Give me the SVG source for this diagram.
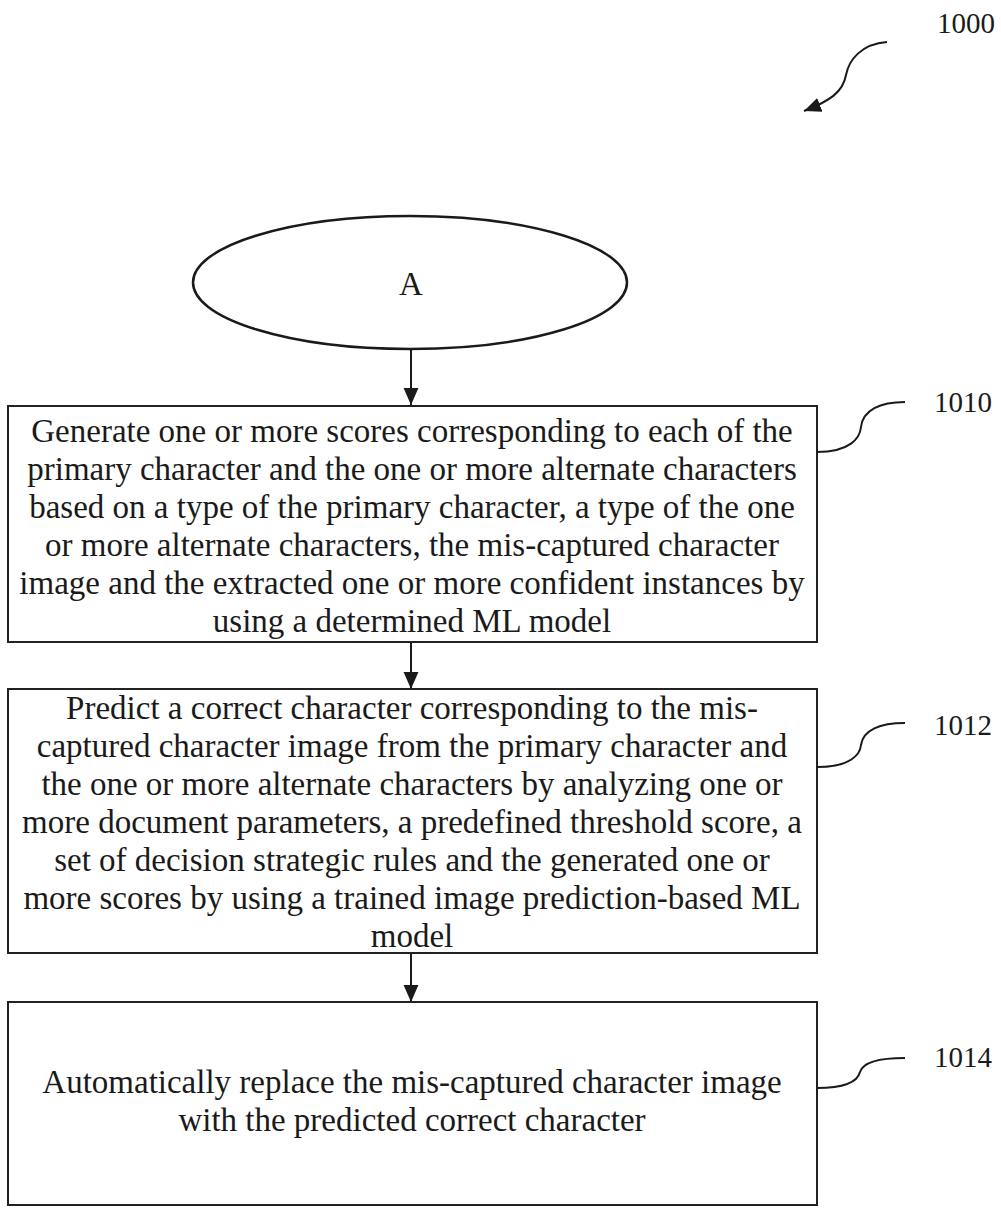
<svg xmlns="http://www.w3.org/2000/svg" width="1001" height="1208" viewBox="0 0 1001 1208">
  <style>
    .box { fill: #ffffff; stroke: #222222; stroke-width: 2; }
    .term { fill: #ffffff; stroke: #1a1a1a; stroke-width: 2.5; }
    .txt { font-family: "Liberation Serif", "Times New Roman", serif; font-size: 33px; fill: #1a1a1a; text-anchor: middle; }
    .ref { font-family: "Liberation Serif", "Times New Roman", serif; font-size: 29px; fill: #1a1a1a; }
    .flow { fill: none; stroke: #1a1a1a; stroke-width: 2; }
    .lead { fill: none; stroke: #1a1a1a; stroke-width: 2; }
  </style>
  <defs>
    <marker id="arrow" viewBox="0 0 16 16" refX="16" refY="8" markerWidth="17" markerHeight="17" markerUnits="userSpaceOnUse" orient="auto">
      <path d="M0,1 L16,8 L0,15 Z" fill="#1a1a1a"/>
    </marker>
  </defs>
  <rect width="1001" height="1208" fill="#ffffff"/>

  <!-- figure reference -->
  <g id="fig-ref">
    <text class="ref" x="937" y="33">1000</text>
    <path class="lead" d="M887,42 C861,44 849,60 846,75 C843,92 830,101 804,111" stroke-width="2.5" marker-end="url(#arrow)"/>
  </g>

  <!-- connectors -->
  <g id="connectors">
    <path class="flow" d="M411,349 L411,405" marker-end="url(#arrow)"/>
    <path class="flow" d="M411,642 L411,689" marker-end="url(#arrow)"/>
    <path class="flow" d="M411,953 L411,1002" marker-end="url(#arrow)"/>
  </g>

  <!-- off-page connector A -->
  <g id="node-a">
    <ellipse class="term" cx="410" cy="282.5" rx="217" ry="66.5"/>
    <text class="txt" x="411" y="295">A</text>
  </g>

  <!-- step 1010 -->
  <g id="node-1010">
    <rect class="box" x="8" y="406" width="809" height="236"/>
    <text class="txt" x="412" y="442">Generate one or more scores corresponding to each of the</text>
    <text class="txt" x="412" y="480">primary character and the one or more alternate characters</text>
    <text class="txt" x="412" y="518">based on a type of the primary character, a type of the one</text>
    <text class="txt" x="412" y="556">or more alternate characters, the mis-captured character</text>
    <text class="txt" x="412" y="594">image and the extracted one or more confident instances by</text>
    <text class="txt" x="412" y="632">using a determined ML model</text>
    <path class="lead" d="M817,452 C850,452 860,438 861,427 C863,410 880,402 905,402"/>
    <text class="ref" x="934" y="412">1010</text>
  </g>

  <!-- step 1012 -->
  <g id="node-1012">
    <rect class="box" x="8" y="689" width="809" height="264"/>
    <text class="txt" x="412" y="719">Predict a correct character corresponding to the mis-</text>
    <text class="txt" x="412" y="757">captured character image from the primary character and</text>
    <text class="txt" x="412" y="795">the one or more alternate characters by analyzing one or</text>
    <text class="txt" x="412" y="833">more document parameters, a predefined threshold score, a</text>
    <text class="txt" x="412" y="871">set of decision strategic rules and the generated one or</text>
    <text class="txt" x="412" y="909">more scores by using a trained image prediction-based ML</text>
    <text class="txt" x="412" y="947">model</text>
    <path class="lead" d="M817,767 C850,767 860,755 861,745 C863,730 880,723 905,723"/>
    <text class="ref" x="934" y="735">1012</text>
  </g>

  <!-- step 1014 -->
  <g id="node-1014">
    <rect class="box" x="8" y="1002" width="809" height="203"/>
    <text class="txt" x="412" y="1093">Automatically replace the mis-captured character image</text>
    <text class="txt" x="412" y="1131">with the predicted correct character</text>
    <path class="lead" d="M817,1088 C850,1088 858,1080 860,1072 C863,1062 880,1058 905,1058"/>
    <text class="ref" x="934" y="1067">1014</text>
  </g>
</svg>
